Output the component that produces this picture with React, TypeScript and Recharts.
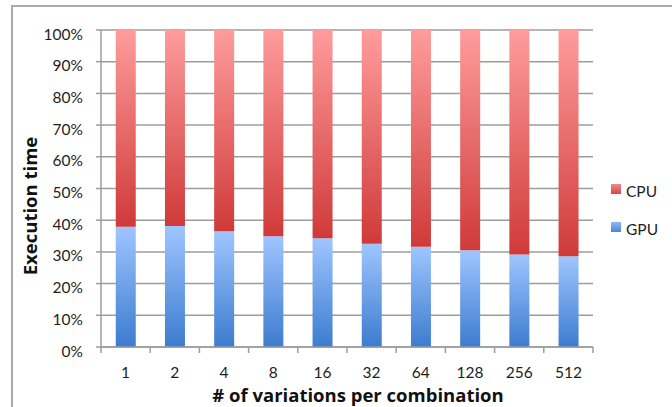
import React from 'react';
import { BarChart, Bar, XAxis, YAxis, CartesianGrid } from 'recharts';

const categories = ['1', '2', '4', '8', '16', '32', '64', '128', '256', '512'];
const gpuShare = [37.9, 38.2, 36.5, 34.9, 34.3, 32.6, 31.6, 30.5, 29.2, 28.6];
const cpuShare = [62.1, 61.8, 63.5, 65.1, 65.7, 67.4, 68.4, 69.5, 70.8, 71.4];
const yTicks = [0, 10, 20, 30, 40, 50, 60, 70, 80, 90, 100];
const seriesNames = ['GPU', 'CPU'];
const xTitle = '# of variations per combination';
const yTitle = 'Execution time';

const data = categories.map((c, i) => ({ name: c, GPU: gpuShare[i], CPU: cpuShare[i] }));

const W = 672;
const H = 407;
const MARGIN = { top: 30, right: 79, bottom: 0, left: 0 };
const Y_AXIS_W = 101;
const X_AXIS_H = 60;
const PLOT_W = W - MARGIN.left - MARGIN.right - Y_AXIS_W;
const BAND = PLOT_W / categories.length;
const FONT = 'Lato, "Open Sans", "DejaVu Sans", sans-serif';
const TITLE_FONT = '"Open Sans", Lato, "DejaVu Sans", sans-serif';
const AXIS_COLOR = '#9c9c9c';
const TEXT_COLOR = '#1e1e1e';

const fills: Record<string, string> = { GPU: 'url(#gpuGrad)', CPU: 'url(#cpuGrad)' };
const legendFills: Record<string, string> = {
  GPU: 'linear-gradient(#8fb8f5, #4a86d6)',
  CPU: 'linear-gradient(#f58a8a, #d44644)',
};

function XTick(props: any) {
  const { x, y, payload, index } = props;
  const axisY = y - 6;
  const left = x - BAND / 2;
  const right = x + BAND / 2;
  return (
    <g>
      <line x1={left} y1={axisY} x2={left} y2={axisY + 6} stroke={AXIS_COLOR} strokeWidth={1.5} />
      {index === categories.length - 1 && (
        <line x1={right} y1={axisY} x2={right} y2={axisY + 6} stroke={AXIS_COLOR} strokeWidth={1.5} />
      )}
      <text x={x} y={y + 25} textAnchor="middle" fontSize={15.5} fill={TEXT_COLOR} fontFamily={FONT}>
        {payload.value}
      </text>
      {index === 0 && (
        <text
          x={MARGIN.left + Y_AXIS_W + PLOT_W / 2 + 11}
          y={y + 48.5}
          textAnchor="middle"
          fontSize={18.5}
          fontWeight="bold"
          fill="#111"
          fontFamily={TITLE_FONT}
        >
          {xTitle}
        </text>
      )}
    </g>
  );
}

function YTick(props: any) {
  const { x, y, payload, index } = props;
  return (
    <g>
      <text x={x} y={y + 9.5} textAnchor="end" fontSize={15.5} fill={TEXT_COLOR} fontFamily={FONT}>
        {payload.value}%
      </text>
      {index === 0 && (
        <text
          x={37}
          y={206}
          transform="rotate(-90 37 206)"
          textAnchor="middle"
          fontSize={18.5}
          fontWeight="bold"
          fill="#111"
          fontFamily={TITLE_FONT}
        >
          {yTitle}
        </text>
      )}
    </g>
  );
}

function LegendBox() {
  const items = [...seriesNames].reverse();
  return (
    <div
      style={{
        position: 'absolute',
        left: 611,
        top: 172,
        fontFamily: FONT,
        fontSize: 15.5,
        color: TEXT_COLOR,
      }}
    >
      {items.map((name) => (
        <div key={name} style={{ height: 38, display: 'flex', alignItems: 'center' }}>
          <div
            style={{
              width: 10,
              height: 10,
              background: legendFills[name],
              marginRight: 5,
              position: 'relative',
              top: -2,
            }}
          />
          <span>{name}</span>
        </div>
      ))}
    </div>
  );
}

export default function App() {
  return (
    <div
      style={{
        position: 'absolute',
        left: 0,
        top: 0,
        width: W,
        height: H,
        overflow: 'hidden',
        background: '#fff',
        fontFamily: FONT,
      }}
    >
      <div
        style={{
          position: 'absolute',
          left: 11,
          top: 5,
          width: 800,
          height: 600,
          borderLeft: '2px solid #aaaaaa',
          borderTop: '2px solid #aaaaaa',
        }}
      />
      <div style={{ position: 'absolute', left: 0, top: 0 }}>
        <BarChart width={W} height={H} data={data} margin={MARGIN} barCategoryGap="30%">
          <defs>
            <linearGradient id="gpuGrad" x1="0" y1="0" x2="0" y2="1">
              <stop offset="0%" stopColor="#9fc5ff" />
              <stop offset="100%" stopColor="#3c7ccf" />
            </linearGradient>
            <linearGradient id="cpuGrad" x1="0" y1="0" x2="0" y2="1">
              <stop offset="0%" stopColor="#ff9c9c" />
              <stop offset="100%" stopColor="#cf3a39" />
            </linearGradient>
          </defs>
          <CartesianGrid vertical={false} stroke={AXIS_COLOR} strokeWidth={1.5} />
          <XAxis
            dataKey="name"
            height={X_AXIS_H}
            stroke={AXIS_COLOR}
            strokeWidth={1.5}
            tickLine={false}
            tickSize={6}
            tickMargin={0}
            tick={<XTick />}
            interval={0}
          />
          <YAxis
            width={Y_AXIS_W}
            domain={[0, 100]}
            ticks={yTicks}
            stroke={AXIS_COLOR}
            strokeWidth={1.5}
            tickSize={5}
            tickMargin={13}
            tickLine={{ stroke: AXIS_COLOR, strokeWidth: 1.5 }}
            tick={<YTick />}
            interval={0}
          />
          {seriesNames.map((s) => (
            <Bar key={s} dataKey={s} stackId="a" fill={fills[s]} isAnimationActive={false} />
          ))}
        </BarChart>
      </div>
      <LegendBox />
    </div>
  );
}
